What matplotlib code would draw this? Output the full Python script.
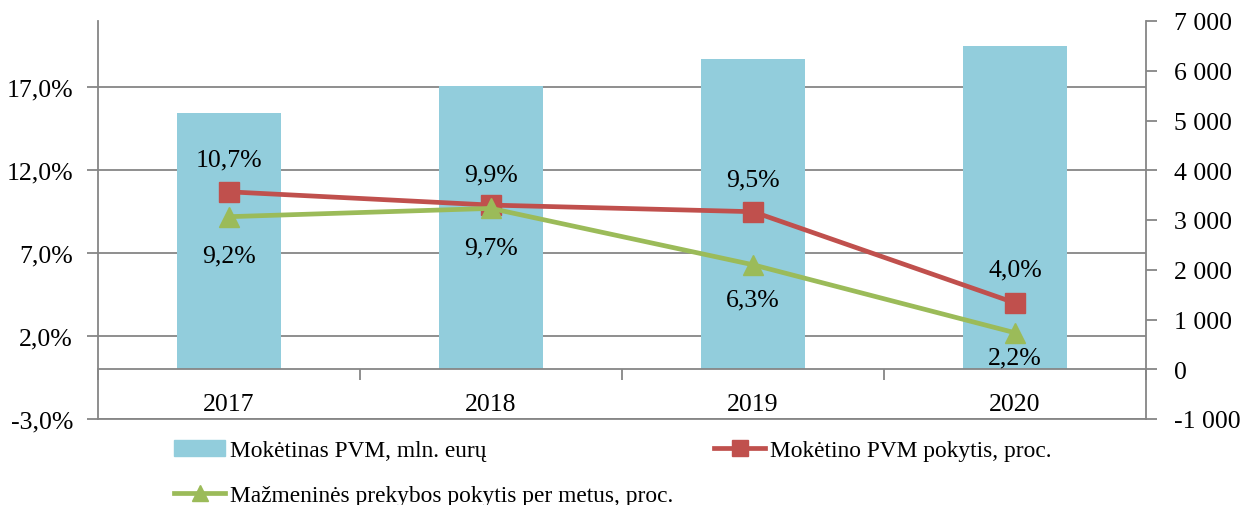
import matplotlib
matplotlib.use('Agg')
import matplotlib.pyplot as plt
import matplotlib.ticker as mticker
import numpy as np

plt.rcParams['font.family'] = ['Liberation Serif', 'DejaVu Serif']

# duomenys
years = ['2017', '2018', '2019', '2020']
pvm_mln = [5160, 5690, 6230, 6490]          # Mokėtinas PVM, mln. eurų
pvm_change = [10.7, 9.9, 9.5, 4.0]          # Mokėtino PVM pokytis, proc.
retail_change = [9.2, 9.7, 6.3, 2.2]        # Mažmeninės prekybos pokytis, proc.
pct_ticks = [-3.0, 2.0, 7.0, 12.0, 17.0]
mln_ticks = [-1000, 0, 1000, 2000, 3000, 4000, 5000, 6000, 7000]

FS = 18.5
LEG_FS = 16.8
GRAY = '#868686'
BAR_C = '#92CDDC'
RED = '#C0504D'
GREEN = '#9BBB59'

fig = plt.figure(figsize=(12.42, 5.06), dpi=100)
ax = fig.add_axes([98 / 1242, 1 - 420 / 506, (1146 - 98) / 1242, (420 - 22) / 506])
ax_bar = ax.twinx()
ax_line = ax.twinx()
ax_line.sharey(ax)

x = np.arange(len(years))

# procentų ašis (kairė) su tinkleliu
ax.set_xlim(-0.5, len(years) - 0.5)
ax.set_ylim(-3, 21)
ax.set_yticks(pct_ticks)
ax.yaxis.set_major_formatter(mticker.FuncFormatter(lambda v, p: f'{v:.1f}'.replace('.', ',') + '%'))
ax.grid(True, axis='y', color=GRAY, linewidth=1.3)
ax.set_axisbelow(True)
ax.tick_params(axis='y', labelsize=FS, length=8, width=1.3, color=GRAY, pad=10)
ax.tick_params(axis='x', which='both', bottom=False, labelbottom=False)
for s in ['top', 'right']:
    ax.spines[s].set_visible(False)
for s in ['left', 'bottom']:
    ax.spines[s].set_color(GRAY)
    ax.spines[s].set_linewidth(1.3)

# stulpeliai (dešinė ašis)
ax_bar.bar(x, pvm_mln, width=0.4, color=BAR_C, zorder=2)
ax_bar.set_ylim(-1000, 7000)
ax_bar.set_yticks(mln_ticks)
ax_bar.yaxis.set_major_formatter(mticker.FuncFormatter(lambda v, p: f'{int(v):,}'.replace(',', ' ')))
ax_bar.tick_params(axis='y', labelsize=FS, length=8, width=1.3, color=GRAY, pad=12)
ax_bar.xaxis.set_visible(True)
ax_bar.spines['bottom'].set_position(('data', 0))
ax_bar.spines['bottom'].set_color(GRAY)
ax_bar.spines['bottom'].set_linewidth(1.3)
ax_bar.spines['right'].set_color(GRAY)
ax_bar.spines['right'].set_linewidth(1.3)
for s in ['top', 'left']:
    ax_bar.spines[s].set_visible(False)
ax_bar.set_xticks(np.arange(len(years) + 1) - 0.5)
ax_bar.set_xticklabels([])
ax_bar.set_xticks(x, minor=True)
ax_bar.set_xticklabels(years, minor=True)
ax_bar.tick_params(axis='x', which='major', direction='out', length=8, width=1.3, color=GRAY)
ax_bar.tick_params(axis='x', which='minor', length=0, labelsize=FS, pad=17)

# linijos
ax_line.plot(x, pvm_change, color=RED, linewidth=3.4, marker='s', markersize=14, zorder=3,
             label='Mokėtino PVM pokytis, proc.')
ax_line.plot(x, retail_change, color=GREEN, linewidth=3.4, marker='^', markersize=15, zorder=3,
             label='Mažmeninės prekybos pokytis per metus, proc.')
ax_line.yaxis.set_visible(False)
ax_line.xaxis.set_visible(False)
for s in ax_line.spines.values():
    s.set_visible(False)

# reikšmių etiketės (poslinkis taškais)
red_off = [23, 22, 23, 24]
green_off = [-28, -28, -25, -18]
for xi, v, o in zip(x, pvm_change, red_off):
    ax_line.annotate(f'{v:.1f}'.replace('.', ',') + '%', (xi, v), xytext=(0, o),
                     textcoords='offset points', ha='center', va='center', fontsize=FS)
for xi, v, o in zip(x, retail_change, green_off):
    ax_line.annotate(f'{v:.1f}'.replace('.', ',') + '%', (xi, v), xytext=(0, o),
                     textcoords='offset points', ha='center', va='center', fontsize=FS)

# legenda
h_bar = plt.Rectangle((0, 0), 1, 1, color=BAR_C)
h_red, h_green = ax_line.get_lines()
fig.legend([h_bar, h_green, h_red],
           ['Mokėtinas PVM, mln. eurų', 'Mažmeninės prekybos pokytis per metus, proc.',
            'Mokėtino PVM pokytis, proc.'],
           ncol=2, loc='upper left', bbox_to_anchor=(174 / 1242, 1 - 441 / 506),
           frameon=False, fontsize=LEG_FS, handlelength=2.2, handletextpad=0.2,
           columnspacing=1.75, labelspacing=1.0, borderaxespad=0, borderpad=0,
           markerscale=0.8)

fig.savefig('out.png', dpi=100)
